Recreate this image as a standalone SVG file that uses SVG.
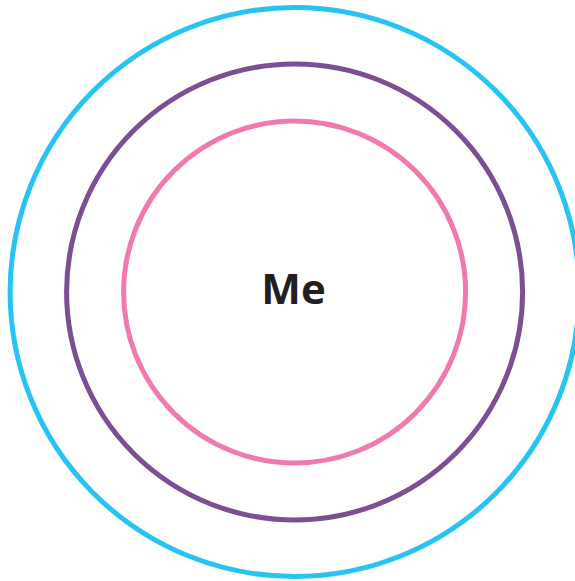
<svg xmlns="http://www.w3.org/2000/svg" width="575" height="581" viewBox="0 0 575 581">
<style>
.ring{fill:none;stroke-width:5}
.label{font-family:"Open Sans","Liberation Sans",sans-serif;font-weight:bold;font-size:42px;fill:#231f20}
</style>
<rect width="575" height="581" fill="#ffffff"/>
<g id="outer"><circle class="ring" cx="294.6" cy="292" r="284.5" stroke="#27c4f3"/></g>
<g id="middle"><circle class="ring" cx="294.6" cy="292" r="228" stroke="#7b4f93"/></g>
<g id="inner"><circle class="ring" cx="294.6" cy="292" r="171" stroke="#f07ab0"/>
<text class="label" x="293.5" y="303.5" text-anchor="middle">Me</text></g>
</svg>
